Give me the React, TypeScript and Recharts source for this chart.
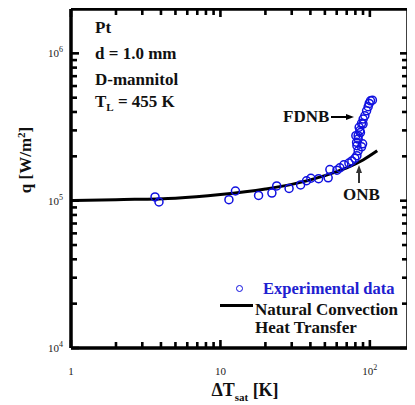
import React from "react";
import { ComposedChart, Line, XAxis, YAxis, ReferenceLine } from "recharts";

// natural convection heat transfer curve
const ncDeltaT = [1, 2, 5, 10, 20, 30, 50, 70, 90, 112];
const ncFlux = [1.0e5, 1.016e5, 1.04e5, 1.1e5, 1.2e5, 1.29e5, 1.48e5, 1.67e5, 1.89e5, 2.18e5];

// experimental data points
const expDeltaT = [
  3.65, 3.88, 11.4, 12.6, 18.0, 22.1, 23.8, 28.8, 34.4, 37.7, 40.3, 45.4, 52.6,
  54.0, 60.2, 63.0, 67.0, 72.4, 75.8, 79.4, 81.9, 83.5, 88.0, 89.4, 81.9, 81.5,
  83.5, 80.6, 83.5, 85.7, 84.8, 88.0, 90.2, 92.6, 95.1, 97.4, 99.0, 101, 104,
  90.0, 86.5,
];
const expFlux = [
  1.06e5, 0.98e5, 1.016e5, 1.163e5, 1.086e5, 1.127e5, 1.26e5, 1.21e5, 1.28e5,
  1.365e5, 1.42e5, 1.41e5, 1.43e5, 1.625e5, 1.61e5, 1.67e5, 1.75e5, 1.8e5,
  1.86e5, 1.94e5, 2.02e5, 2.18e5, 2.32e5, 2.43e5, 2.36e5, 2.49e5, 2.62e5,
  2.76e5, 2.76e5, 2.99e5, 3.15e5, 3.35e5, 3.58e5, 3.77e5, 4.07e5, 4.34e5,
  4.57e5, 4.76e5, 4.81e5, 3.31e5, 2.9e5,
];

const xDomain = [1, 180];
const yDomain = [1e4, 2e6];
const xTicks = [1, 2, 3, 4, 5, 6, 7, 8, 9, 10, 20, 30, 40, 50, 60, 70, 80, 90, 100];
const xMajor: Record<number, [string, string]> = { 1: ["1", ""], 10: ["10", ""], 100: ["10", "2"] };
const yTicks = [
  1e4, 2e4, 3e4, 4e4, 5e4, 6e4, 7e4, 8e4, 9e4,
  1e5, 2e5, 3e5, 4e5, 5e5, 6e5, 7e5, 8e5, 9e5, 1e6,
];
const yMajor: Record<number, string> = { 10000: "4", 100000: "5", 1000000: "6" };

const ncData = ncDeltaT.map((dT, i) => ({ dT, q: ncFlux[i] }));
const expData = expDeltaT.map((dT, i) => ({ dT, q: expFlux[i] }));

const W = 407;
const H = 397;
const M = { top: 1, right: 7, left: 0, bottom: 0 };
const Y_AXIS_W = 63;
const X_AXIS_H = 57;
const PLOT_LEFT = Y_AXIS_W;
const PLOT_RIGHT = W - M.right;
const PLOT_TOP = M.top;
const PLOT_BOTTOM = H - X_AXIS_H;

const SERIF = "'Liberation Serif', 'Times New Roman', serif";
const BLUE = "#1010e0";

// inward tick marks on bottom + top edges, label under the majors
function XTickMark(props: any) {
  const { x } = props;
  const major = xMajor[props.payload.value];
  const len = major ? 8 : 6;
  return (
    <g>
      <rect x={x - 1.3} y={PLOT_BOTTOM - len} width={2.6} height={len} fill="black" />
      <rect x={x - 1.3} y={PLOT_TOP} width={2.6} height={len} fill="black" />
      {major && (
        <text x={x} y={PLOT_BOTTOM + 27} textAnchor="middle" fontFamily={SERIF} fontSize={11} fill="#222">
          {major[0]}
          {major[1] && (
            <tspan fontSize={8} dy={-5}>
              {major[1]}
            </tspan>
          )}
        </text>
      )}
    </g>
  );
}

// inward tick marks on left + right edges
function YTickMark(props: any) {
  const { y } = props;
  const major = yMajor[props.payload.value];
  const len = major ? 8 : 6;
  return (
    <g>
      <rect x={PLOT_LEFT} y={y - 1.3} width={len} height={2.6} fill="black" />
      <rect x={PLOT_RIGHT - len} y={y - 1.3} width={len} height={2.6} fill="black" />
      {major && (
        <text x={PLOT_LEFT - 8} y={y + 4} textAnchor="end" fontFamily={SERIF} fontSize={11} fill="#222">
          10
          <tspan fontSize={8} dy={-5}>
            {major}
          </tspan>
        </text>
      )}
    </g>
  );
}

function OpenCircle(props: any) {
  const { cx, cy } = props;
  if (cx == null || cy == null) return null;
  return <circle cx={cx} cy={cy} r={4} fill="none" stroke={BLUE} strokeWidth={1.5} />;
}

// bold serif text placed by its baseline
function Txt({ x, y, size = 17, color = "#111", center = false, children }: any) {
  return (
    <div
      style={{
        position: "absolute",
        left: x,
        top: y - 0.8375 * size,
        fontFamily: SERIF,
        fontWeight: 700,
        fontSize: size,
        lineHeight: `${size}px`,
        color,
        whiteSpace: "nowrap",
        transform: center ? "translateX(-50%)" : undefined,
      }}
    >
      {children}
    </div>
  );
}

const sub = (t: string, size: number, shift: number) => (
  <span style={{ fontSize: size, position: "relative", top: shift }}>{t}</span>
);

function Annotations() {
  return (
    <div style={{ position: "absolute", left: 0, top: 0, width: W, height: H }}>
      <Txt x={87} y={25}>Pt</Txt>
      <Txt x={87} y={51}>d = 1.0 mm</Txt>
      <Txt x={87} y={77}>D-mannitol</Txt>
      <Txt x={87} y={99}>
        T{sub("L", 11, 4)} = 455 K
      </Txt>

      <Txt x={275} y={114}>FDNB</Txt>
      <div style={{ position: "absolute", left: 323, top: 108.4, width: 16, height: 1.2, background: "#000" }} />
      <div
        style={{
          position: "absolute",
          left: 338,
          top: 106,
          width: 0,
          height: 0,
          borderTop: "3px solid transparent",
          borderBottom: "3px solid transparent",
          borderLeft: "8px solid #000",
        }}
      />

      <Txt x={335} y={192}>ONB</Txt>
      <div style={{ position: "absolute", left: 350.4, top: 164, width: 1.2, height: 11, background: "#333" }} />
      <div
        style={{
          position: "absolute",
          left: 348,
          top: 157,
          width: 0,
          height: 0,
          borderLeft: "3px solid transparent",
          borderRight: "3px solid transparent",
          borderBottom: "8px solid #333",
        }}
      />

      <div
        style={{
          position: "absolute",
          left: 228,
          top: 277,
          width: 5,
          height: 5,
          borderRadius: "50%",
          border: `1.5px solid ${BLUE}`,
        }}
      />
      <Txt x={255} y={287} size={16.5} color="#2020d0">
        Experimental data
      </Txt>
      <div style={{ position: "absolute", left: 212, top: 295.5, width: 33, height: 3, background: "#000" }} />
      <Txt x={247} y={307}>Natural Convection</Txt>
      <Txt x={247} y={325}>Heat Transfer</Txt>

      <Txt x={237} y={388} size={18} center>
        ΔT{sub("sat", 11, 5)} [K]
      </Txt>
      <div
        style={{
          position: "absolute",
          left: 18.3,
          top: 152,
          transform: "translate(-50%, -50%) rotate(-90deg)",
          fontFamily: SERIF,
          fontWeight: 700,
          fontSize: 17,
          lineHeight: "17px",
          color: "#111",
          whiteSpace: "nowrap",
        }}
      >
        q [W/m{sub("2", 11, -6)}]
      </div>
    </div>
  );
}

export default function App() {
  return (
    <div style={{ position: "relative", width: W, height: H }}>
      <Annotations />
      <div style={{ position: "absolute", left: 0, top: 0 }}>
        <ComposedChart width={W} height={H} margin={M}>
          <XAxis
            dataKey="dT"
            type="number"
            scale="log"
            domain={xDomain}
            allowDataOverflow
            ticks={xTicks}
            interval={0}
            tick={<XTickMark />}
            tickLine={false}
            axisLine={false}
            height={X_AXIS_H}
          />
          <YAxis
            type="number"
            scale="log"
            domain={yDomain}
            allowDataOverflow
            ticks={yTicks}
            interval={0}
            tick={<YTickMark />}
            tickLine={false}
            axisLine={false}
            width={Y_AXIS_W}
          />
          {/* plot frame */}
          <ReferenceLine x={xDomain[0]} stroke="#000" strokeWidth={3.5} />
          <ReferenceLine x={xDomain[1]} stroke="#000" strokeWidth={3.5} />
          <ReferenceLine y={yDomain[0]} stroke="#000" strokeWidth={3.5} />
          <ReferenceLine y={yDomain[1]} stroke="#000" strokeWidth={3.5} />
          <Line
            data={ncData}
            dataKey="q"
            type="monotone"
            stroke="#000"
            strokeWidth={3}
            dot={false}
            isAnimationActive={false}
          />
          <Line
            data={expData}
            dataKey="q"
            stroke="none"
            dot={<OpenCircle />}
            activeDot={false}
            isAnimationActive={false}
          />
        </ComposedChart>
      </div>
    </div>
  );
}
